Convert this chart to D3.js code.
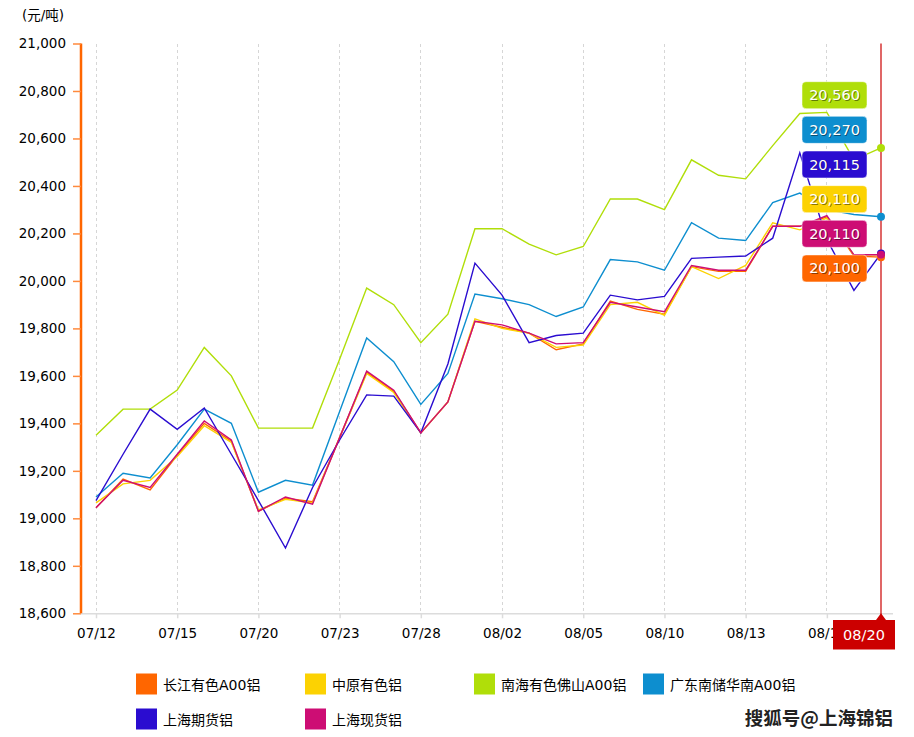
<!DOCTYPE html>
<html>
<head>
<meta charset="utf-8">
<script src="https://cdn.jsdelivr.net/npm/d3@7"></script>
<style>
  html, body { margin: 0; padding: 0; background: #fff; }
  svg { display: block; font-family: "DejaVu Sans", Verdana, "Noto Sans CJK SC", sans-serif; }
</style>
</head>
<body>
<div id="chart"></div>
<script>
// ---------- data ----------
const dates = ["07/12","07/13","07/14","07/15","07/16","07/19","07/20","07/21","07/22","07/23",
               "07/26","07/27","07/28","07/29","07/30","08/02","08/03","08/04","08/05","08/06",
               "08/09","08/10","08/11","08/12","08/13","08/16","08/17","08/18","08/19","08/20"];
const tickLabels = ["07/12","07/15","07/20","07/23","07/28","08/02","08/05","08/10","08/13","08/18"];
const yTicks = [18600, 18800, 19000, 19200, 19400, 19600, 19800, 20000, 20200, 20400, 20600, 20800, 21000];

const seriesNames = ["长江有色A00铝", "中原有色铝", "南海有色佛山A00铝", "广东南储华南A00铝", "上海期货铝", "上海现货铝"];
const seriesColors = ["#FF6600", "#FCD202", "#B0DE09", "#0D8ECF", "#2A0CD0", "#CD0D74"];

const changjiang = [19045,19165,19120,19265,19400,19325,19030,19085,19070,19340,
                    19615,19535,19360,19490,19830,19805,19780,19710,19735,19915,
                    19880,19860,20060,20040,20040,20230,20230,20270,20105,20100];
const zhongyuan  = [19065,19145,19160,19260,19390,19320,19035,19080,19065,19340,
                    19610,19530,19360,19490,19840,19800,19780,19720,19730,19900,
                    19910,19855,20060,20010,20065,20245,20215,20265,20110,20110];
const nanhai     = [19350,19460,19460,19540,19720,19600,19380,19380,19380,19670,
                    19970,19900,19740,19860,20220,20220,20155,20110,20145,20345,
                    20345,20300,20510,20445,20430,20570,20705,20710,20510,20560];
const guangdong  = [19090,19190,19170,19310,19460,19400,19110,19160,19140,19450,
                    19760,19660,19480,19610,19945,19925,19900,19850,19890,20090,
                    20080,20045,20245,20180,20170,20330,20370,20300,20280,20270];
const shfutures  = [19075,19270,19460,19375,19465,19270,19075,18875,19130,19330,
                    19520,19515,19360,19650,20075,19940,19740,19770,19780,19940,
                    19920,19935,20095,20100,20105,20180,20540,20175,19960,20115];
const shspot     = [19045,19160,19130,19270,19410,19330,19030,19090,19060,19340,
                    19620,19540,19360,19490,19830,19815,19780,19735,19740,19910,
                    19890,19870,20065,20045,20045,20230,20230,20275,20110,20110];

const seriesValues = [changjiang, zhongyuan, nanhai, guangdong, shfutures, shspot];
// balloon order (top to bottom) at the cursor date
const balloonOrder = [2, 3, 4, 1, 5, 0];
const cursorDate = "08/20";

// ---------- layout ----------
const W = 914, H = 737;
const svg = d3.select("#chart").append("svg").attr("width", W).attr("height", H);

const x = d3.scalePoint().domain(dates).range([96, 881]).padding(0);
const y = d3.scaleLinear().domain([18600, 21000]).range([613.3, 43.5]);
const plotTop = y(21000), plotBottom = y(18600);
const fmt = d3.format(",");

// unit label
svg.append("text").attr("x", 22).attr("y", 20).attr("font-size", 13.5).attr("fill", "#000").text("(元/吨)");

// vertical dashed grid lines
svg.append("g").selectAll("line").data(tickLabels).join("line")
  .attr("x1", d => x(d)).attr("x2", d => x(d))
  .attr("y1", plotTop).attr("y2", plotBottom)
  .attr("stroke", "#d6d6d6").attr("stroke-width", 1).attr("stroke-dasharray", "3,3")
  .attr("shape-rendering", "crispEdges");

// x axis
const xAxis = svg.append("g").attr("transform", `translate(0,${plotBottom})`)
  .call(d3.axisBottom(x).tickValues(tickLabels).tickSize(5).tickPadding(10));
xAxis.select(".domain").attr("d", `M81,0.5H893`).attr("stroke", "#dcdcdc").attr("stroke-width", 1.5);
xAxis.selectAll(".tick line").attr("stroke", "#dcdcdc").attr("stroke-width", 1.5);
xAxis.selectAll(".tick text").attr("font-size", 13.5).attr("fill", "#000")
  .attr("font-family", "DejaVu Sans, Verdana, sans-serif");

// y axis
const yAxis = svg.append("g").attr("transform", `translate(81,0)`)
  .call(d3.axisLeft(y).tickValues(yTicks).tickFormat(fmt).tickSize(8).tickPadding(7));
yAxis.select(".domain").attr("d", `M0,${plotTop}V${plotBottom}`).attr("stroke", "#FF6600").attr("stroke-width", 2.5);
yAxis.selectAll(".tick line").attr("stroke", "#FF8A3D").attr("stroke-width", 1.5);
yAxis.selectAll(".tick text").attr("font-size", 13.5).attr("fill", "#000")
  .attr("font-family", "DejaVu Sans, Verdana, sans-serif");

// series lines
const line = d3.line().x((d, i) => x(dates[i])).y(d => y(d));
svg.append("g").selectAll("path").data(seriesValues).join("path")
  .attr("d", d => line(d))
  .attr("fill", "none")
  .attr("stroke", (d, i) => seriesColors[i])
  .attr("stroke-width", 1.4)
  .attr("stroke-linejoin", "miter");

// cursor line
const cx = x(cursorDate);
const ci = dates.indexOf(cursorDate);
svg.append("line").attr("x1", cx).attr("x2", cx).attr("y1", plotTop).attr("y2", plotBottom + 7)
  .attr("stroke", "#CC0000").attr("stroke-width", 1.2);

// cursor dots
svg.append("g").selectAll("circle").data(seriesValues).join("circle")
  .attr("cx", cx).attr("cy", d => y(d[ci])).attr("r", 4)
  .attr("fill", (d, i) => seriesColors[i]);

// balloons
const bx = 802, bw = 65, bh = 27, b0 = 81.7, bstep = 34.65;
const balloons = svg.append("g").selectAll("g").data(balloonOrder).join("g")
  .attr("transform", (s, k) => `translate(${bx},${b0 + k * bstep})`);
balloons.append("rect").attr("width", bw).attr("height", bh).attr("rx", 4).attr("ry", 4)
  .attr("fill", s => seriesColors[s]).attr("stroke", "#fff").attr("stroke-opacity", 0.5).attr("stroke-width", 1);
balloons.append("text").attr("x", bw / 2 + 1).attr("y", bh / 2 + 5.8).attr("text-anchor", "middle")
  .attr("font-size", 14.5).attr("fill", "rgba(0,0,0,0.45)")
  .text(s => fmt(seriesValues[s][ci]));
balloons.append("text").attr("x", bw / 2).attr("y", bh / 2 + 5).attr("text-anchor", "middle")
  .attr("font-size", 14.5).attr("fill", "#fff")
  .text(s => fmt(seriesValues[s][ci]));

// date balloon at bottom
const dg = svg.append("g");
dg.append("path")
  .attr("d", `M833,620 H${cx - 5} L${cx},${plotBottom} L${cx + 5},620 H895 V649.5 H833 Z`)
  .attr("fill", "#CC0000");
dg.append("text").attr("x", 864).attr("y", 640).attr("text-anchor", "middle")
  .attr("font-size", 14.5).attr("fill", "#fff").text(cursorDate);

// legend
const legendX = [136, 305, 474, 643];
const legendY = [673.5, 708.5];
const lg = svg.append("g").selectAll("g").data(seriesNames).join("g")
  .attr("transform", (d, i) => `translate(${legendX[i % 4]},${legendY[Math.floor(i / 4)]})`);
lg.append("rect").attr("width", 21).attr("height", 21).attr("fill", (d, i) => seriesColors[i]);
lg.append("text").attr("x", 27).attr("y", 16).attr("font-size", 14).attr("fill", "#000")
  .attr("font-family", "DejaVu Sans, 'Noto Sans CJK SC', sans-serif").text(d => d);

// watermark
svg.append("text").attr("x", 893).attr("y", 725).attr("text-anchor", "end")
  .attr("font-size", 18.5).attr("font-weight", "bold")
  .attr("font-family", "'Noto Sans CJK SC', sans-serif")
  .attr("fill", "#222").attr("stroke", "#fff").attr("stroke-width", 0.6).attr("paint-order", "stroke")
  .text("搜狐号@上海锦铝");
</script>
</body>
</html>
